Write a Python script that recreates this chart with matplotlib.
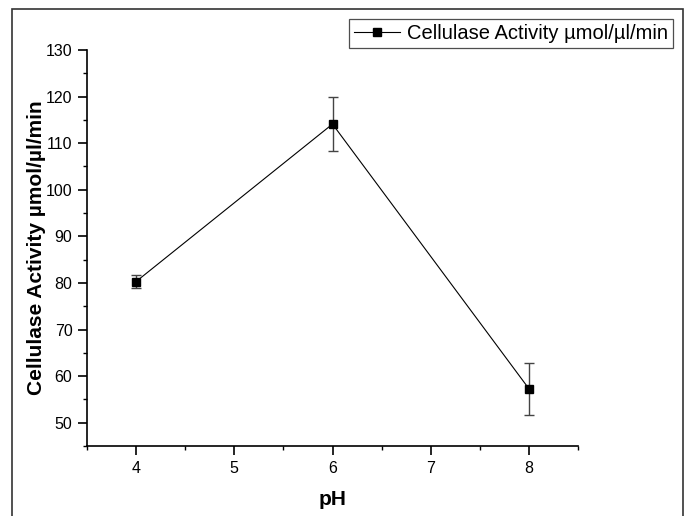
import matplotlib
matplotlib.use("Agg")
import matplotlib.pyplot as plt
from matplotlib.patches import Rectangle
from matplotlib.ticker import MultipleLocator

plt.rcParams['font.family'] = ['Liberation Sans', 'DejaVu Sans']

ph = [4, 6, 8]
activity = [80.3, 114.1, 57.3]
error = [1.4, 5.8, 5.6]
series_label = "Cellulase Activity µmol/µl/min"
x_label = "pH"
y_label = "Cellulase Activity µmol/µl/min"

W, H = 690, 516
fig = plt.figure(figsize=(W / 100, H / 100), dpi=100)
ax = fig.add_axes([87 / W, (H - 446) / H, (578 - 87) / W, (446 - 50) / H])

ax.errorbar(ph, activity, yerr=error, fmt='none', ecolor='#444444',
            elinewidth=1.0, capsize=3.5, capthick=1.0, zorder=2)
line, = ax.plot(ph, activity, color='black', lw=0.8, marker='s', ms=6,
                mfc='black', mec='black', label=series_label, zorder=3)

ax.set_xlim(3.5, 8.5)
ax.set_ylim(45, 130)
ax.xaxis.set_major_locator(MultipleLocator(1))
ax.xaxis.set_minor_locator(MultipleLocator(0.5))
ax.set_yticks(range(50, 131, 10))
ax.yaxis.set_minor_locator(MultipleLocator(5))
ax.spines['top'].set_visible(False)
ax.spines['right'].set_visible(False)
for s in ('left', 'bottom'):
    ax.spines[s].set_linewidth(1.2)
ax.tick_params(which='major', direction='out', length=6.5, width=1.2, labelsize=11.5, pad=4)
ax.tick_params(which='minor', direction='out', length=3, width=1.0)

ax.set_xlabel(x_label, fontsize=15, fontweight='bold')
ax.set_ylabel(y_label, fontsize=15, fontweight='bold')
ax.xaxis.set_label_coords(0.5, -0.11)
ax.yaxis.set_label_coords(-0.0835, 0.5)

leg = fig.legend(handles=[line], loc='upper right',
                 bbox_to_anchor=(673 / W, (H - 19) / H),
                 fontsize=14.5, frameon=True, fancybox=False, edgecolor='#222222',
                 borderpad=0.25, handlelength=2.3, handletextpad=0.35,
                 borderaxespad=0)
leg.get_frame().set_linewidth(0.9)

fig.patches.append(Rectangle((12 / W, -0.05), (683 - 12) / W, (H - 9) / H + 0.05,
                             transform=fig.transFigure, fill=False,
                             edgecolor='#333333', lw=1.2))

fig.savefig("out.png", dpi=100)
